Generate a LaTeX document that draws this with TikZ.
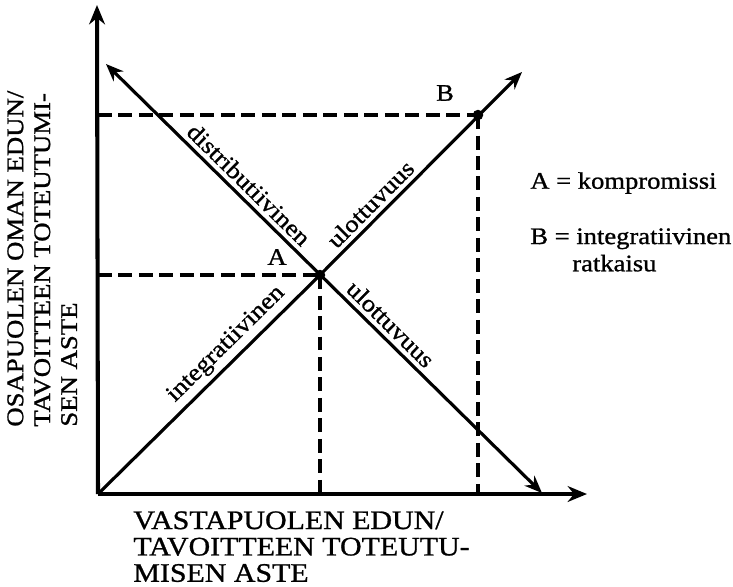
\documentclass[tikz,border=0pt]{standalone}
\usepackage{fontspec}
\setmainfont{Liberation Serif}[FakeStretch=1.12, FakeBold=1]
\usepackage{tikz}
\usetikzlibrary{arrows.meta, positioning}
\tikzset{
  axisarr/.style={-{Stealth[length=11pt,width=9pt]}, line width=2.3pt},
  diagarr/.style={-{Stealth[length=10pt,width=8pt]}, line width=1.8pt},
  diagboth/.style={{Stealth[length=10pt,width=8pt]}-{Stealth[length=10pt,width=8pt]}, line width=1.8pt},
  dashln/.style={line width=1.9pt, dash pattern=on 0.28cm off 0.13cm},
  ptdot/.style={circle, fill=black, inner sep=0pt, minimum size=0.21cm},
  difflbl/.style={font=\fontsize{13.5}{15}\selectfont, sloped, inner sep=2.5pt},
  ptlbl/.style={font=\fontsize{13.5}{15}\selectfont, inner sep=0pt},
  keylbl/.style={font=\fontsize{13.5}{15.5}\selectfont, anchor=west, inner sep=0pt, align=left},
  axislbl/.style={font=\fontsize{15.2}{15}\selectfont, align=left, inner sep=0pt, anchor=north west},
}
\begin{document}
\begin{tikzpicture}[x=0.02cm, y=-0.02cm]
\useasboundingbox (0,0) rectangle (733,586);
\coordinate (O) at (98,494);
\coordinate (ytop) at (97,5);
\coordinate (xend) at (587,494);
\coordinate (A) at (320,275);
\coordinate (B) at (478,115);
\coordinate (itr) at (522,72);
\coordinate (dtl) at (106,64);
\coordinate (dbr) at (542,493);
\coordinate (yA) at (O |- A);
\coordinate (yB) at (O |- B);
\coordinate (xA) at (O -| A);
\coordinate (xB) at (O -| B);
\draw[dashln] (yB) -- (B);
\draw[dashln] (yA) -- (A);
\draw[dashln] (A) -- (xA);
\draw[dashln] (B) -- (xB);
\draw[axisarr] (O) -- (ytop);
\draw[axisarr] (O) -- (xend);
\draw[diagarr] (O) -- node[difflbl, pos=0.63, above] {integratiivinen} (A)
  -- node[difflbl, pos=0.30, above] {ulottuvuus} (itr);
\draw[diagboth] (dtl) -- node[difflbl, pos=0.305, above] {distributiivinen}
  node[difflbl, pos=0.63, above] {ulottuvuus} (dbr);
\node[ptdot] (dotA) at (A) {};
\node[ptdot] (dotB) at (B) {};
\node[ptlbl] (labA) at (277,257) {A};
\node[ptlbl] (labB) at (445,93) {B};
\node[keylbl] (keyA) at (530,183) {A = kompromissi};
\node[keylbl, anchor=north west] (keyB) at (530,228) {B = integratiivinen\\\hspace*{0.84cm}ratkaisu};
\node[axislbl, rotate=90, font=\fontsize{13.6}{15.3}\selectfont] (ylab) at (7,427) {OSAPUOLEN OMAN EDUN/\\TAVOITTEEN TOTEUTUMI-\\SEN ASTE};
\node[axislbl] (xlab) at (133,511) {VASTAPUOLEN EDUN/\\TAVOITTEEN TOTEUTU-\\MISEN ASTE};
\end{tikzpicture}
\end{document}
